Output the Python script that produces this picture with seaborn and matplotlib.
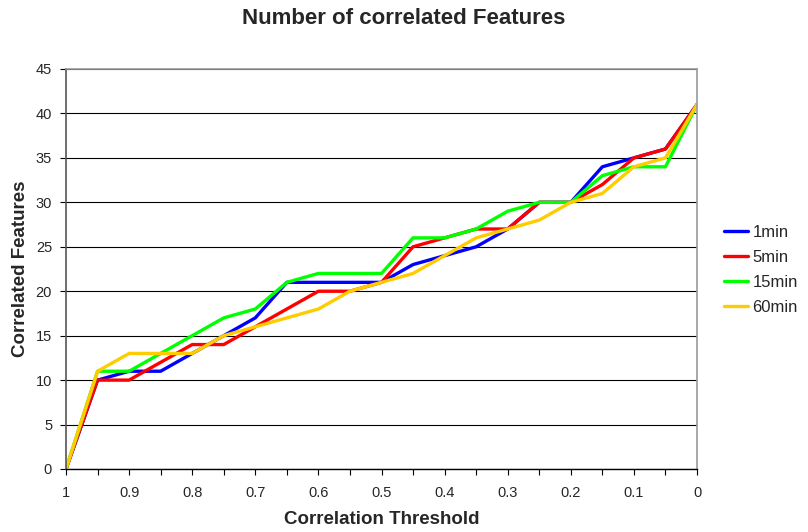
import numpy as np
import pandas as pd
import matplotlib
matplotlib.use("Agg")
import matplotlib.pyplot as plt
import seaborn as sns

thresholds = [1.0, 0.95, 0.9, 0.85, 0.8, 0.75, 0.7, 0.65, 0.6, 0.55, 0.5,
              0.45, 0.4, 0.35, 0.3, 0.25, 0.2, 0.15, 0.1, 0.05, 0.0]
s_1min = [0, 10, 11, 11, 13, 15, 17, 21, 21, 21, 21, 23, 24, 25, 27, 30, 30, 34, 35, 36, 41]
s_5min = [0, 10, 10, 12, 14, 14, 16, 18, 20, 20, 21, 25, 26, 27, 27, 30, 30, 32, 35, 36, 41]
s_15min = [0, 11, 11, 13, 15, 17, 18, 21, 22, 22, 22, 26, 26, 27, 29, 30, 30, 33, 34, 34, 41]
s_60min = [0, 11, 13, 13, 13, 15, 16, 17, 18, 20, 21, 22, 24, 26, 27, 28, 30, 31, 34, 35, 41]
series_names = ["1min", "5min", "15min", "60min"]
colors = ["#0000FF", "#FF0000", "#00FF00", "#FFCC00"]
x_tick_labels = ["1", "0.9", "0.8", "0.7", "0.6", "0.5", "0.4", "0.3", "0.2", "0.1", "0"]

sns.set_theme(style="white")
plt.rcParams['font.family'] = ['Liberation Sans', 'DejaVu Sans']

rows = []
for name, vals in zip(series_names, [s_1min, s_5min, s_15min, s_60min]):
    for t, v in zip(thresholds, vals):
        rows.append({"Threshold": t, "Features": v, "Series": name})
df = pd.DataFrame(rows)

fig = plt.figure(figsize=(8.08, 5.32), dpi=100)
ax = fig.add_axes([66/808, 1-469/532, (697-66)/808, (469-69)/532])

sns.lineplot(data=df, x="Threshold", y="Features", hue="Series",
             hue_order=series_names, palette=colors, linewidth=2.4,
             ax=ax, legend=True)

ax.set_xlim(1.0, 0.0)
ax.set_ylim(0, 45)
ax.set_yticks(np.arange(0, 46, 5))
ax.set_xticks(thresholds, minor=True)
ax.set_xticks([1.0 - 0.1*i for i in range(11)])
ax.set_xticklabels(x_tick_labels)
ax.yaxis.grid(True, color="black", linewidth=0.8)
ax.set_axisbelow(True)
ax.tick_params(axis="both", which="both", direction="out", length=4, width=0.8,
               color="black", labelsize=10.5, bottom=True, left=True)
ax.tick_params(axis="x", which="minor", length=4)
ax.tick_params(axis="x", pad=8)
ax.tick_params(axis="y", pad=6)

ax.spines["bottom"].set_color("black")
ax.spines["bottom"].set_linewidth(1.0)
ax.spines["left"].set_color("#555555")
ax.spines["left"].set_linewidth(1.2)
for side in ["top", "right"]:
    ax.spines[side].set_color("#999999")
    ax.spines[side].set_linewidth(1.2)

ax.set_xlabel("Correlation Threshold", fontsize=13.5, fontweight="bold", labelpad=8)
ax.set_ylabel("Correlated Features", fontsize=13.5, fontweight="bold", labelpad=5)
fig.text(0.5, 1-18/532, "Number of correlated Features", fontsize=16,
         fontweight="bold", ha="center", va="center")

leg = ax.legend(loc="center left", bbox_to_anchor=(1.019, 0.497), frameon=False,
                fontsize=12, handlelength=1.45, handletextpad=0.25, labelspacing=0.6)
for line in leg.get_lines():
    line.set_linewidth(2.4)

fig.savefig("out.png", dpi=100, facecolor="white")
